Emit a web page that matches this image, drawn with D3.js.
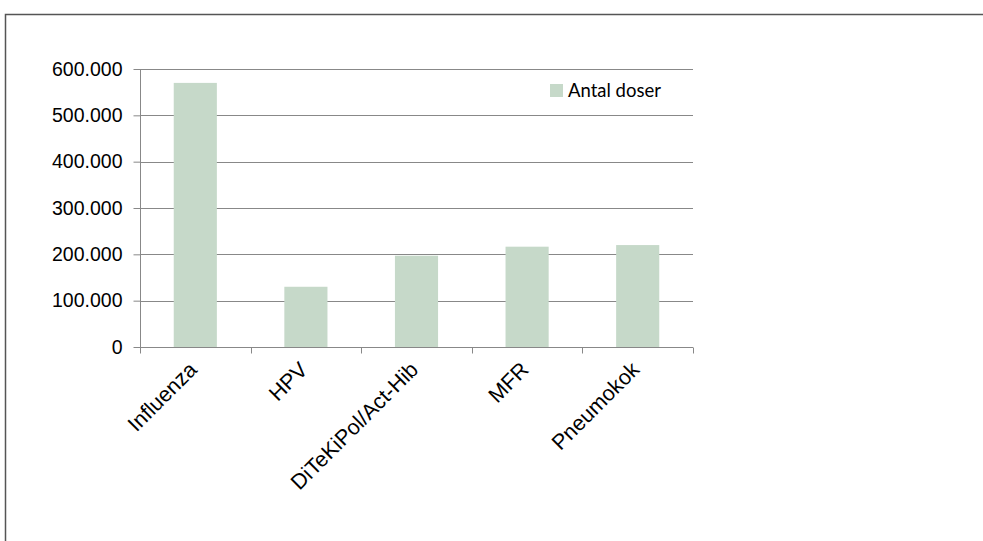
<!DOCTYPE html>
<html><head><meta charset="utf-8">
<script src="https://cdn.jsdelivr.net/npm/d3@7"></script>
<style>body{margin:0;background:#fff}</style>
</head><body>
<svg id="c" width="983" height="541"></svg>
<script>
const categories = ["Influenza","HPV","DiTeKiPol/Act-Hib","MFR","Pneumokok"];
const values = [570000,130000,197000,216500,220000];
const yTicks = [0,100000,200000,300000,400000,500000,600000];
const seriesName = "Antal doser";

const svg = d3.select("#c");
svg.append("rect").attr("x",5.5).attr("y",14.5).attr("width",1000).attr("height",600)
  .attr("fill","none").attr("stroke","#555").attr("stroke-width",1.5);

const x = d3.scaleBand().domain(categories).range([140,693]).paddingInner(0.61).paddingOuter(0.305);
const xb = d3.scaleBand().domain(categories).range([140,693]);
const y = d3.scaleLinear().domain([0,600000]).range([347,69]);

const fmt = v => v===0 ? "0" : d3.format(",")(v).replace(/,/g,".");

// gridlines
svg.append("g").selectAll("line").data(yTicks.filter(d=>d>0)).join("line")
  .attr("x1",140).attr("x2",693).attr("y1",d=>Math.round(y(d))+0.5).attr("y2",d=>Math.round(y(d))+0.5)
  .attr("stroke","#888").attr("stroke-width",1);

// bars
svg.append("g").selectAll("rect").data(values).join("rect")
  .attr("x",(d,i)=>x(categories[i])).attr("width",x.bandwidth())
  .attr("y",d=>y(d)).attr("height",d=>y(0)-y(d)).attr("fill","#c6d9c9");

// y axis
const yAxis = d3.axisLeft(y).tickValues(yTicks).tickFormat(fmt).tickSize(7).tickPadding(11);
const ga = svg.append("g").attr("transform","translate(140.5,0)").call(yAxis);
ga.select(".domain").attr("stroke","#888").attr("d","M0,69V347.5");
ga.selectAll(".tick line").attr("stroke","#888");
ga.selectAll(".tick text").attr("font-family","Liberation Sans, Arial").attr("font-size","19.5px").attr("fill","#000");

// x axis
const xAxis = d3.axisBottom(xb).tickSize(0).tickFormat("");
const gx = svg.append("g").attr("transform","translate(0,347.5)").call(xAxis);
gx.select(".domain").attr("stroke","#888").attr("d","M140,0H693");
gx.selectAll(".tick").remove();
const edges = d3.range(categories.length+1).map(i=> i<categories.length ? xb(categories[i]) : xb.range()[1]);
gx.selectAll("line.t").data(edges).join("line").attr("class","t")
  .attr("x1",d=>Math.round(d)+0.5).attr("x2",d=>Math.round(d)+0.5).attr("y1",0).attr("y2",6).attr("stroke","#888");

// category labels
svg.append("g").selectAll("text").data(categories).join("text")
  .attr("transform",d=>`translate(${xb(d)+xb.bandwidth()/2+3},${371}) rotate(-45)`)
  .attr("text-anchor","end").attr("font-family","Liberation Sans, Arial").attr("font-size","21.5px")
  .attr("fill","#000").text(d=>d);

// legend
svg.append("rect").attr("x",550).attr("y",84).attr("width",13).attr("height",13).attr("fill","#c6d9c9");
svg.append("text").attr("x",568).attr("y",97).attr("font-family","Lato, Carlito, Calibri").attr("font-size","18.5px")
  .attr("fill","#000").text(seriesName);
</script>
</body></html>
